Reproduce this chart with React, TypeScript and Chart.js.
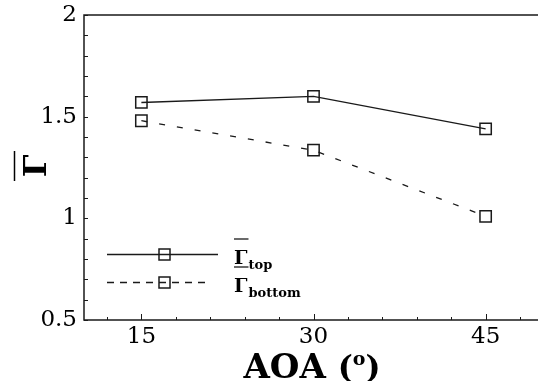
import React, { useEffect, useRef } from "react";
import { Chart, registerables } from "chart.js";

Chart.register(...registerables);

// Angle of attack (degrees) and mean circulation on both surfaces
const aoaDeg = [15, 30, 45];
const gammaTop = [1.57, 1.6, 1.44];
const gammaBottom = [1.48, 1.335, 1.01];

// Axis ticks
const xTickValues = [15, 30, 45];
const xMinorTicks = [12, 18, 21, 24, 27, 33, 36, 39, 42, 48];
const yTickValues = [0.5, 1, 1.5, 2];
const yMinorTicks = [0.6, 0.7, 0.8, 0.9, 1.1, 1.2, 1.3, 1.4, 1.6, 1.7, 1.8, 1.9];

// Text
const seriesSubscripts = ["top", "bottom"];
const gammaSymbol = "Γ";
const xTitleMain = "AOA";
const xTitleUnit = "o";

const SERIF = '"DejaVu Serif", serif';
const INK = "#1a1a1a";

const framePlugin = {
  id: "frame",
  afterDraw(chart: any) {
    const { ctx, chartArea: a, scales } = chart;
    const xs = scales.x;
    const ys = scales.y;
    ctx.save();
    ctx.strokeStyle = INK;
    ctx.lineWidth = 1.5;
    // left, top and bottom edges of the frame
    ctx.beginPath();
    ctx.moveTo(a.right + 2, a.top);
    ctx.lineTo(a.left, a.top);
    ctx.lineTo(a.left, a.bottom);
    ctx.lineTo(a.right + 2, a.bottom);
    ctx.stroke();
    ctx.lineWidth = 1;
    ctx.beginPath();
    for (const v of [...yTickValues, ...yMinorTicks]) {
      const py = Math.round(ys.getPixelForValue(v)) + 0.5;
      ctx.moveTo(a.left, py);
      ctx.lineTo(a.left + 4, py);
    }
    for (const v of xTickValues) {
      const px = Math.round(xs.getPixelForValue(v)) + 0.5;
      ctx.moveTo(px, a.bottom);
      ctx.lineTo(px, a.bottom - 6);
    }
    for (const v of xMinorTicks) {
      const px = Math.round(xs.getPixelForValue(v)) + 0.5;
      ctx.moveTo(px, a.bottom);
      ctx.lineTo(px, a.bottom - 3);
    }
    ctx.stroke();
    ctx.restore();
  },
};

const titlePlugin = {
  id: "axisTitles",
  afterDraw(chart: any) {
    const { ctx, chartArea: a } = chart;
    ctx.save();
    ctx.fillStyle = "#000";
    ctx.strokeStyle = "#000";

    // x title: AOA (°) with a raised "o"
    const mainFont = `bold 34px ${SERIF}`;
    const parenFont = `bold 32px ${SERIF}`;
    const supFont = `bold 19px ${SERIF}`;
    ctx.font = mainFont;
    const wMain = ctx.measureText(xTitleMain + " ").width;
    ctx.font = parenFont;
    const wOpen = ctx.measureText("(").width;
    const wClose = ctx.measureText(")").width;
    ctx.font = supFont;
    const wSup = ctx.measureText(xTitleUnit).width;
    const total = wMain + wOpen + wSup + wClose;
    const baseY = 378;
    let x = 312 - total / 2;
    ctx.textBaseline = "alphabetic";
    ctx.textAlign = "left";
    ctx.font = mainFont;
    ctx.fillText(xTitleMain, x, baseY);
    x += wMain;
    ctx.font = parenFont;
    ctx.fillText("(", x, baseY);
    x += wOpen;
    ctx.font = supFont;
    ctx.fillText(xTitleUnit, x, baseY - 13);
    x += wSup;
    ctx.font = parenFont;
    ctx.fillText(")", x, baseY);

    // y title: Γ with overbar, rotated
    ctx.save();
    ctx.translate(46, 166);
    ctx.rotate(-Math.PI / 2);
    ctx.font = `bold 32px ${SERIF}`;
    ctx.textAlign = "center";
    ctx.textBaseline = "alphabetic";
    ctx.fillText(gammaSymbol, 0, 0);
    ctx.lineWidth = 1.5;
    ctx.beginPath();
    ctx.moveTo(-15, -31.5);
    ctx.lineTo(15, -31.5);
    ctx.stroke();
    ctx.restore();

    ctx.restore();
  },
};

const legendPlugin = {
  id: "inlineLegend",
  afterDraw(chart: any) {
    const { ctx, chartArea: a } = chart;
    const rows = [
      { y: 254.5, lineEnd: 218, dash: [] as number[] },
      { y: 282.5, lineEnd: 208, dash: [7, 6] },
    ];
    const x0 = a.left + 23;
    ctx.save();
    rows.forEach((r, i) => {
      ctx.strokeStyle = INK;
      ctx.lineWidth = 1.3;
      ctx.setLineDash(r.dash);
      ctx.beginPath();
      ctx.moveTo(x0, r.y);
      ctx.lineTo(r.lineEnd, r.y);
      ctx.stroke();
      ctx.setLineDash([]);
      ctx.lineWidth = 1.5;
      ctx.strokeRect(x0 + 52, r.y - 5.5, 11, 11);

      // label: overbar Γ with subscript
      const lx = 234;
      const base = r.y + 9;
      ctx.fillStyle = "#000";
      ctx.font = `bold 19px ${SERIF}`;
      ctx.textAlign = "left";
      ctx.textBaseline = "alphabetic";
      ctx.fillText(gammaSymbol, lx, base);
      const gw = ctx.measureText(gammaSymbol).width;
      ctx.lineWidth = 1.3;
      ctx.beginPath();
      ctx.moveTo(lx, base - 24.5);
      ctx.lineTo(lx + gw + 1, base - 24.5);
      ctx.stroke();
      ctx.font = `bold 13px ${SERIF}`;
      ctx.fillText(seriesSubscripts[i], lx + gw + 1, base + 5);
    });
    ctx.restore();
  },
};

export default function App() {
  const ref = useRef<HTMLCanvasElement>(null);

  useEffect(() => {
    const canvas = ref.current;
    if (!canvas) return;
    const pointStyle = {
      pointStyle: "rect" as const,
      pointRadius: 8,
      pointHoverRadius: 8,
      pointBorderWidth: 1.5,
      pointBorderColor: INK,
      pointBackgroundColor: "rgba(0,0,0,0)",
    };
    const chart = new Chart(canvas, {
      type: "line",
      data: {
        datasets: [
          {
            label: seriesSubscripts[0],
            data: aoaDeg.map((a, i) => ({ x: a, y: gammaTop[i] })),
            borderColor: INK,
            borderWidth: 1.4,
            fill: false,
            tension: 0,
            ...pointStyle,
          },
          {
            label: seriesSubscripts[1],
            data: aoaDeg.map((a, i) => ({ x: a, y: gammaBottom[i] })),
            borderColor: INK,
            borderWidth: 1.3,
            borderDash: [6, 12],
            fill: false,
            tension: 0,
            ...pointStyle,
          },
        ],
      },
      options: {
        animation: false,
        responsive: false,
        devicePixelRatio: 1,
        layout: {
          autoPadding: false,
          padding: { top: 15, right: 1, left: 0, bottom: 0 },
        },
        plugins: {
          legend: { display: false },
          tooltip: { enabled: false },
        },
        scales: {
          x: {
            type: "linear",
            min: 10,
            max: 50,
            afterFit: (s: any) => {
              s.height = 61;
              s.paddingLeft = 0;
              s.paddingRight = 0;
            },
            afterBuildTicks: (s: any) => {
              s.ticks = xTickValues.map((v) => ({ value: v }));
            },
            grid: { display: false, drawTicks: false },
            border: { display: false },
            ticks: {
              padding: 3,
              color: "#000",
              autoSkip: false,
              maxRotation: 0,
              font: { family: SERIF, size: 23 },
              callback: (v: any) => String(v),
            },
          },
          y: {
            type: "linear",
            min: 0.5,
            max: 2,
            afterFit: (s: any) => {
              s.width = 84;
              s.paddingTop = 0;
              s.paddingBottom = 0;
            },
            afterBuildTicks: (s: any) => {
              s.ticks = yTickValues.map((v) => ({ value: v }));
            },
            grid: { display: false, drawTicks: false },
            border: { display: false },
            ticks: {
              padding: 7,
              color: "#000",
              autoSkip: false,
              font: { family: SERIF, size: 23 },
              callback: (v: any) => String(v),
            },
          },
        },
      },
      plugins: [framePlugin, titlePlugin, legendPlugin],
    });
    return () => chart.destroy();
  }, []);

  return (
    <div
      style={{
        position: "fixed",
        left: 0,
        top: 0,
        width: 538,
        height: 381,
        overflow: "hidden",
        background: "#fff",
      }}
    >
      <canvas
        ref={ref}
        width={544}
        height={381}
        style={{ display: "block", width: 544, height: 381 }}
      />
    </div>
  );
}
